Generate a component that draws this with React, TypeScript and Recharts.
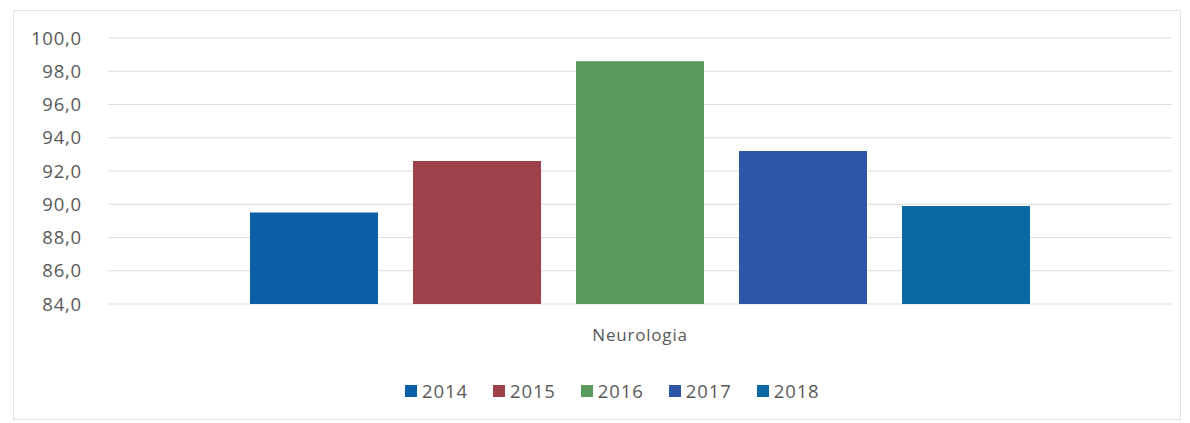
import React from "react";
import { BarChart, Bar, XAxis, YAxis, CartesianGrid, Legend } from "recharts";

const categories = ["Neurologia"];
const years = ["2014", "2015", "2016", "2017", "2018"];
const values = [89.5, 92.6, 98.6, 93.2, 89.9];
const colors = ["#0b5ea8", "#9e414b", "#5b9a5d", "#2e56a7", "#0a68a2"];
const yTicks = [84, 86, 88, 90, 92, 94, 96, 98, 100];

const data = categories.map((name) => {
  const row: Record<string, string | number> = { name };
  years.forEach((y, i) => {
    row[y] = values[i];
  });
  return row;
});

const font = "'Open Sans', sans-serif";
const textColor = "#595959";

function fmt(v: number) {
  return v.toFixed(1).replace(".", ",");
}

const LegendContent = () => (
  <div style={{ display: "flex", fontFamily: font, fontSize: 18.5, color: textColor, letterSpacing: 0.9 }}>
    {years.map((y, i) => (
      <div key={y} style={{ display: "flex", alignItems: "center", marginRight: 25 }}>
        <span style={{ width: 12, height: 12, background: colors[i], marginRight: 5, display: "inline-block" }} />
        <span>{y}</span>
      </div>
    ))}
  </div>
);

export default function App() {
  return (
    <div style={{ position: "absolute", left: 0, top: 0, width: 1190, height: 423, background: "#fff" }}>
      <div
        style={{
          position: "absolute",
          left: 13,
          top: 10,
          width: 1166,
          height: 408,
          border: "1px solid #e2e2e2",
        }}
      />
      <BarChart
        width={1190}
        height={423}
        data={data}
        margin={{ top: 38, right: 18, left: 0, bottom: 30 }}
        barSize={128}
        barGap={35}
      >
        <CartesianGrid vertical={false} stroke="#dcdcdc" />
        <XAxis
          dataKey="name"
          axisLine={false}
          tickLine={false}
          tickMargin={19}
          height={60}
          tick={{ fill: textColor, fontSize: 17, fontFamily: font, letterSpacing: 0.8 }}
        />
        <YAxis
          domain={[84, 100]}
          ticks={yTicks}
          interval={0}
          tickFormatter={fmt}
          axisLine={false}
          tickLine={false}
          tickMargin={20}
          width={108}
          tick={{ fill: textColor, fontSize: 18.5, fontFamily: font, letterSpacing: 0.8 }}
        />
        <Legend
          content={<LegendContent />}
          verticalAlign="bottom"
          wrapperStyle={{ top: 378, left: 405, width: "auto", height: 29 }}
        />
        {years.map((y, i) => (
          <Bar key={y} dataKey={y} fill={colors[i]} isAnimationActive={false} />
        ))}
      </BarChart>
    </div>
  );
}
